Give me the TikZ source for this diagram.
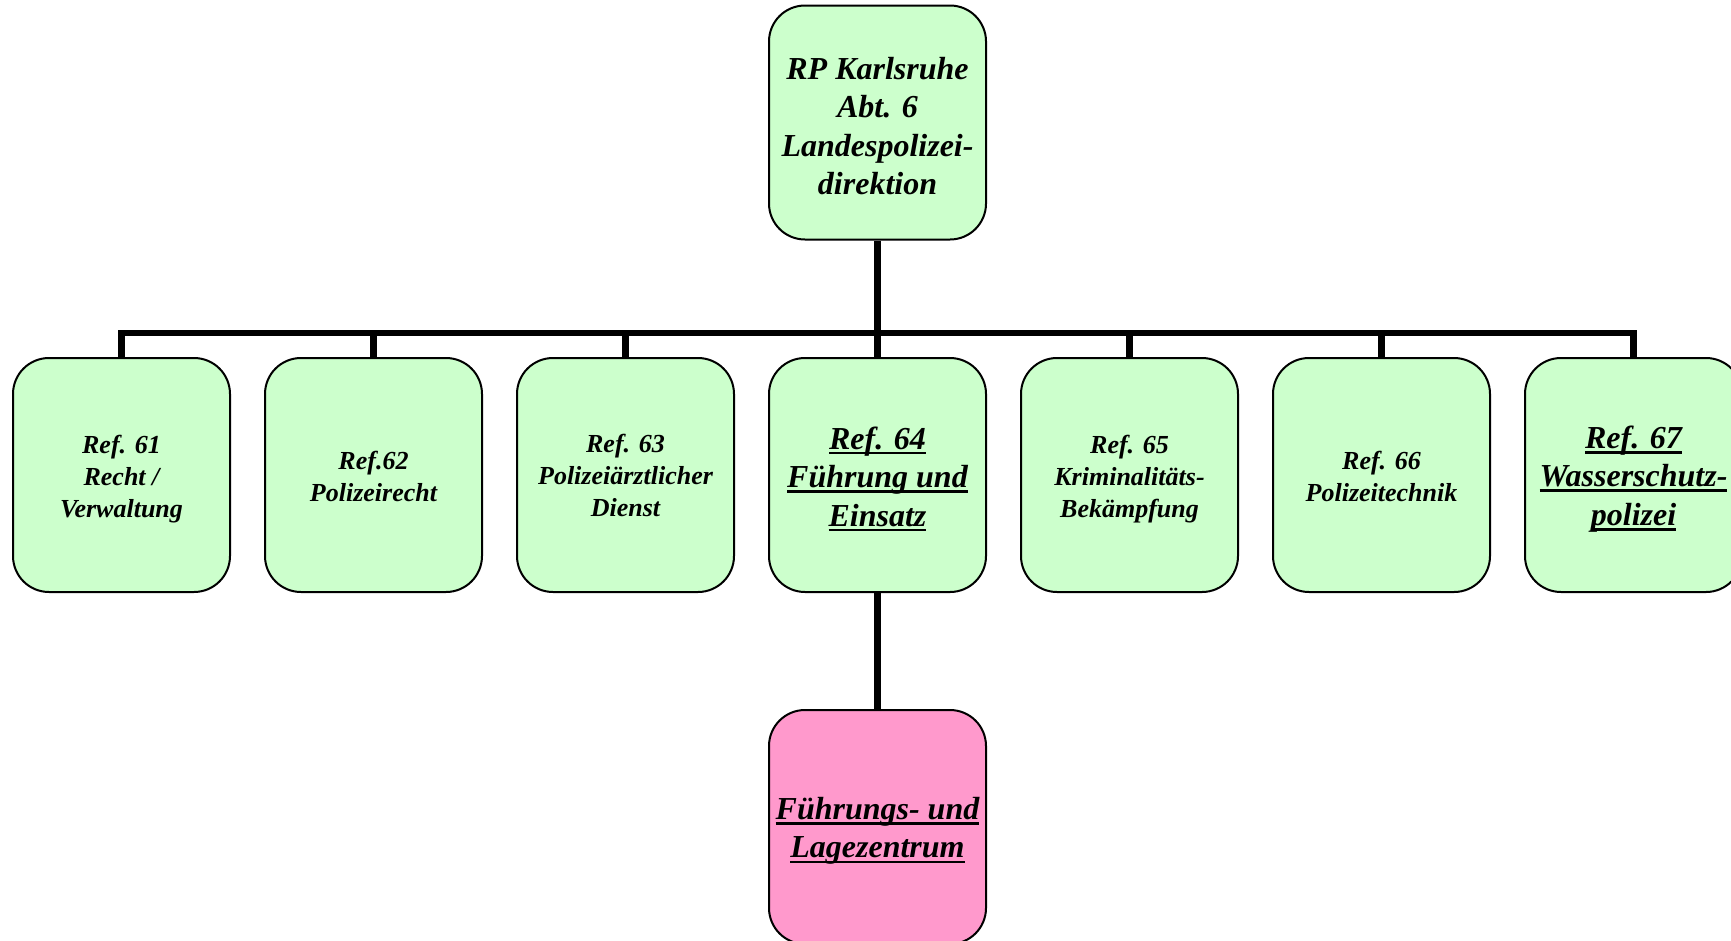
\documentclass[tikz,border=0pt]{standalone}
\usepackage{fontspec}
\setmainfont{Liberation Serif}
\newcommand\myul[1]{\sbox0{#1}\rlap{\rule[-0.17em]{\wd0}{0.09em}}\usebox0}
\definecolor{boxgreen}{RGB}{204,255,204}
\definecolor{boxpink}{RGB}{255,153,204}
\begin{document}
\begin{tikzpicture}[x=1pt,y=-1pt,
  orgbox/.style={draw=black,line width=2pt,fill=boxgreen,rounded corners=36pt,
    minimum width=217pt,minimum height=234pt,inner sep=0pt},
  lbl/.style={inner sep=0pt,align=center,
    font=\fontsize{26}{32}\selectfont\bfseries\itshape},
  biglbl/.style={lbl,font=\fontsize{32}{38.5}\selectfont\bfseries\itshape},
  conn/.style={line width=6.5pt,black}]
\clip (0,0) rectangle (1731,940);
\fill[white] (0,0) rectangle (1731,940);
\node[orgbox] (top) at (877.5,122.5) {};
\node[orgbox] (r61) at (121.5,475) {};
\node[orgbox] (r62) at (373.5,475) {};
\node[orgbox] (r63) at (625.5,475) {};
\node[orgbox] (r64) at (877.5,475) {};
\node[orgbox] (r65) at (1129.5,475) {};
\node[orgbox] (r66) at (1381.5,475) {};
\node[orgbox] (r67) at (1633.5,475) {};
\node[orgbox,fill=boxpink] (flz) at (877.5,827) {};
\node[biglbl] (topt) at ([yshift=-3.5pt]top.center) {RP Karlsruhe\\Abt. 6\\Landespolizei-\\direktion};
\node[lbl] (r61t) at ([yshift=-4pt]r61.center) {Ref. 61\\Recht /\\Verwaltung};
\node[lbl] (r62t) at ([yshift=-1.5pt]r62.center) {Ref.62\\Polizeirecht};
\node[lbl] (r63t) at ([yshift=0pt]r63.center) {Ref. 63\\Polizeiärztlicher\\Dienst};
\node[biglbl] (r64t) at ([yshift=-4pt]r64.center) {\myul{Ref. 64}\\\myul{Führung und}\\\myul{Einsatz}};
\node[lbl] (r65t) at ([yshift=-4pt]r65.center) {Ref. 65\\Kriminalitäts-\\Bekämpfung};
\node[lbl] (r66t) at ([yshift=-1pt]r66.center) {Ref. 66\\Polizeitechnik};
\node[biglbl] (r67t) at ([yshift=-4pt]r67.center) {\myul{Ref. 67}\\\myul{Wasserschutz-}\\\myul{polizei}};
\node[biglbl] (flzt) at ([yshift=-4pt]flz.center) {\myul{Führungs- und}\\\myul{Lagezentrum}};
\coordinate (bar) at (877.5,333);
\draw[conn] (top.south) -- (bar);
\foreach \n in {r61,r62,r63,r64,r65,r66,r67}{
  \draw[conn] (bar) -| (\n.north);
}
\draw[conn] (r64.south) -- (flz.north);
\end{tikzpicture}
\end{document}
